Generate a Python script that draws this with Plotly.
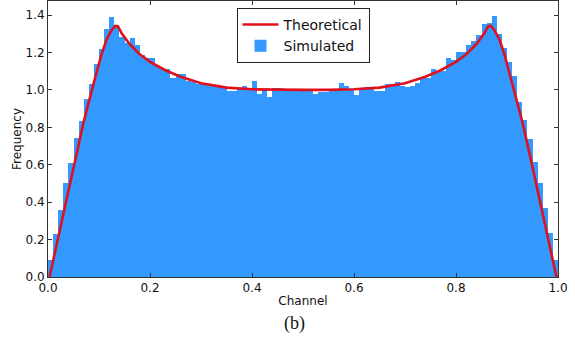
import numpy as np
import plotly.graph_objects as go

# Simulated histogram: 100 bins over [0, 1]
n_bins = 100
sim_freq = [
    0.09, 0.23, 0.36, 0.50, 0.61, 0.745, 0.834, 0.949, 1.034, 1.141,
    1.221, 1.323, 1.387, 1.346, 1.283, 1.248, 1.275, 1.24, 1.186, 1.168,
    1.17, 1.13, 1.114, 1.114, 1.061, 1.084, 1.084, 1.05, 1.04, 1.034,
    1.037, 1.03, 1.025, 1.02, 1.01, 0.995, 0.995, 1.005, 1.02, 1.0,
    1.048, 0.978, 1.0, 0.963, 1.01, 1.01, 1.005, 1.0, 1.0, 1.005,
    1.0, 1.003, 0.98, 0.99, 0.99, 1.0, 1.0, 1.036, 1.02, 1.007,
    0.972, 1.0, 1.015, 1.015, 0.993, 0.993, 1.03, 1.03, 1.04, 1.02,
    1.013, 1.02, 1.037, 1.066, 1.066, 1.114, 1.096, 1.1, 1.168, 1.16,
    1.2, 1.205, 1.239, 1.26, 1.292, 1.35, 1.355, 1.394, 1.296, 1.225,
    1.15, 1.073, 0.936, 0.838, 0.735, 0.615, 0.505, 0.371, 0.235, 0.093,
]

# Theoretical curve
theo_x = [0.003, 0.02, 0.04, 0.055, 0.07, 0.09, 0.105, 0.115, 0.125, 0.132,
          0.137, 0.145, 0.16, 0.18, 0.2, 0.23, 0.26, 0.3, 0.35, 0.4,
          0.45, 0.5, 0.55, 0.6, 0.65, 0.7, 0.74, 0.77, 0.8, 0.82,
          0.84, 0.855, 0.863, 0.868, 0.875, 0.885, 0.895, 0.91, 0.93, 0.945,
          0.96, 0.98, 0.997]
theo_y = [0.0, 0.21, 0.46, 0.65, 0.83, 1.04, 1.19, 1.27, 1.32, 1.342,
          1.34, 1.3, 1.245, 1.19, 1.15, 1.105, 1.07, 1.035, 1.012, 1.003,
          1.0, 1.0, 1.0, 1.003, 1.012, 1.035, 1.07, 1.105, 1.15, 1.19,
          1.245, 1.3, 1.34, 1.342, 1.32, 1.27, 1.19, 1.04, 0.83, 0.65,
          0.46, 0.21, 0.0]

x_ticks = [0.0, 0.2, 0.4, 0.6, 0.8, 1.0]
y_ticks = [0.0, 0.2, 0.4, 0.6, 0.8, 1.0, 1.2, 1.4]

edges = np.linspace(0, 1, n_bins + 1)
centers = (edges[:-1] + edges[1:]) / 2
width = edges[1] - edges[0]

BLUE = "#3399ff"
RED = "#e0101c"
FONT = "DejaVu Sans"

fig = go.Figure()
fig.add_trace(go.Bar(x=centers, y=sim_freq, width=width, name="Simulated",
                     marker=dict(color=BLUE, line=dict(width=0))))
fig.add_trace(go.Scatter(x=theo_x, y=theo_y, mode="lines", name="Theoretical",
                         line=dict(color=RED, width=2.6)))

axis_common = dict(showline=True, linecolor="#333333", linewidth=1, mirror="ticks",
                   ticks="inside", ticklen=4, tickcolor="#333333", showgrid=False,
                   zeroline=False, automargin=False,
                   tickfont=dict(family=FONT, size=12, color="#111111"))

fig.update_layout(
    width=575, height=352,
    margin=dict(l=48, r=17, t=1, b=75),
    paper_bgcolor="white", plot_bgcolor="white",
    bargap=0,
    showlegend=True,
    legend=dict(x=0.5, xanchor="center", y=0.975, yanchor="top",
                bordercolor="#222222", borderwidth=1, bgcolor="white",
                font=dict(family=FONT, size=14, color="#111111"),
                traceorder="reversed", itemwidth=36, tracegroupgap=0),
    xaxis=dict(range=[0, 1], tickvals=x_ticks, ticktext=[f"{v:.1f}" for v in x_ticks],
               title=dict(text="Channel", font=dict(family=FONT, size=12, color="#111111"), standoff=2),
               **axis_common),
    yaxis=dict(range=[0, 1.475], tickvals=y_ticks, ticktext=[f"{v:.1f}" for v in y_ticks],
               title=dict(text="Frequency", font=dict(family=FONT, size=12, color="#111111"), standoff=1),
               **axis_common),
    annotations=[dict(text="(b)", x=0.484, xref="paper", y=0, yref="paper",
                      yanchor="middle", yshift=-46, showarrow=False,
                      font=dict(family="Liberation Serif", size=18, color="#111111"))],
)

fig.write_html("out.html", config={"displayModeBar": False},
               post_script="document.body.style.margin='0';")
